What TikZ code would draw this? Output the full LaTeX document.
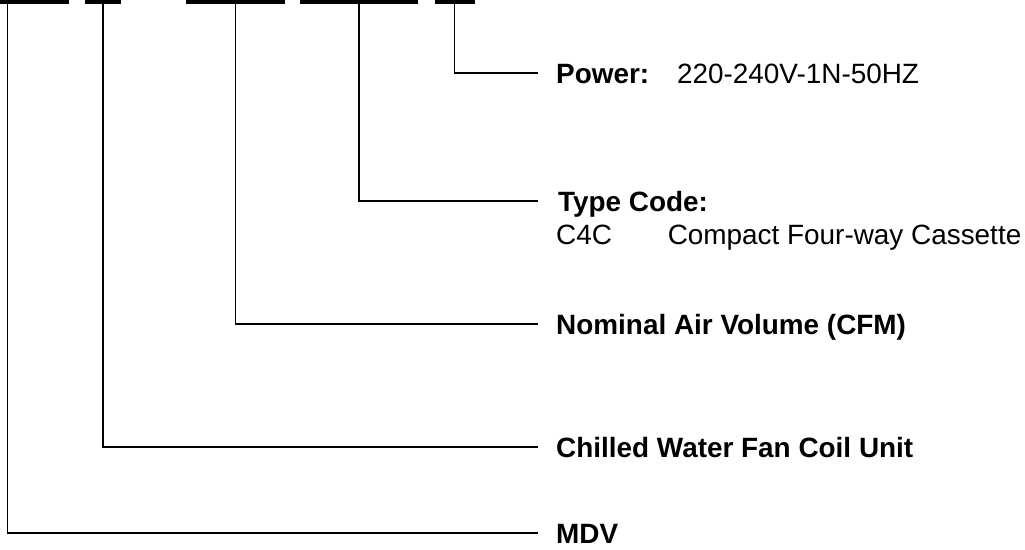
\documentclass[tikz,border=0pt]{standalone}
\usepackage{fontspec}
\setmainfont{Liberation Sans}
\tikzset{
	bar/.style={fill=black, minimum height=8pt, inner sep=0pt, outer sep=0pt},
	lbl/.style={anchor=west, inner sep=0pt, text height=20pt, text depth=0pt, font=\fontsize{27.9}{33}\selectfont},
	lead/.style={line width=1.4pt}
}
\begin{document}
	\begin{tikzpicture}[x=1pt, y=-1pt]
		\useasboundingbox (0,0) rectangle (1025,549);
		\node[bar, minimum width=123pt] (mdv) at (7.5,0) {};
		\node[bar, minimum width=36pt] (fcu) at (103,0) {};
		\node[bar, minimum width=99pt] (cfm) at (235.5,0) {};
		\node[bar, minimum width=118pt] (type) at (359,0) {};
		\node[bar, minimum width=40pt] (pwr) at (454.5,0) {};
		\coordinate (e5) at (538,73);
		\coordinate (e4) at (538,201);
		\coordinate (e3) at (538,324);
		\coordinate (e2) at (538,447);
		\coordinate (e1) at (538,533);
		\node[lbl] (tpwr) at (556,73) {\textbf{Power:}\quad 220-240V-1N-50HZ};
		\node[lbl] (ttype) at (558,201) {\textbf{Type Code:}};
		\node[lbl] (tc4c) at (556,234) {C4C\qquad Compact Four-way Cassette};
		\node[lbl] (tcfm) at (556,324) {\textbf{Nominal Air Volume (CFM)}};
		\node[lbl] (tfcu) at (556,447) {\textbf{Chilled Water Fan Coil Unit}};
		\node[lbl] (tmdv) at (556,533) {\textbf{MDV}};
		\draw[lead] (pwr.south) |- (e5);
		\draw[lead] (type.south) |- (e4);
		\draw[lead] (cfm.south) |- (e3);
		\draw[lead] (fcu.south) |- (e2);
		\draw[lead] (mdv.south) |- (e1);
	\end{tikzpicture}
\end{document}
